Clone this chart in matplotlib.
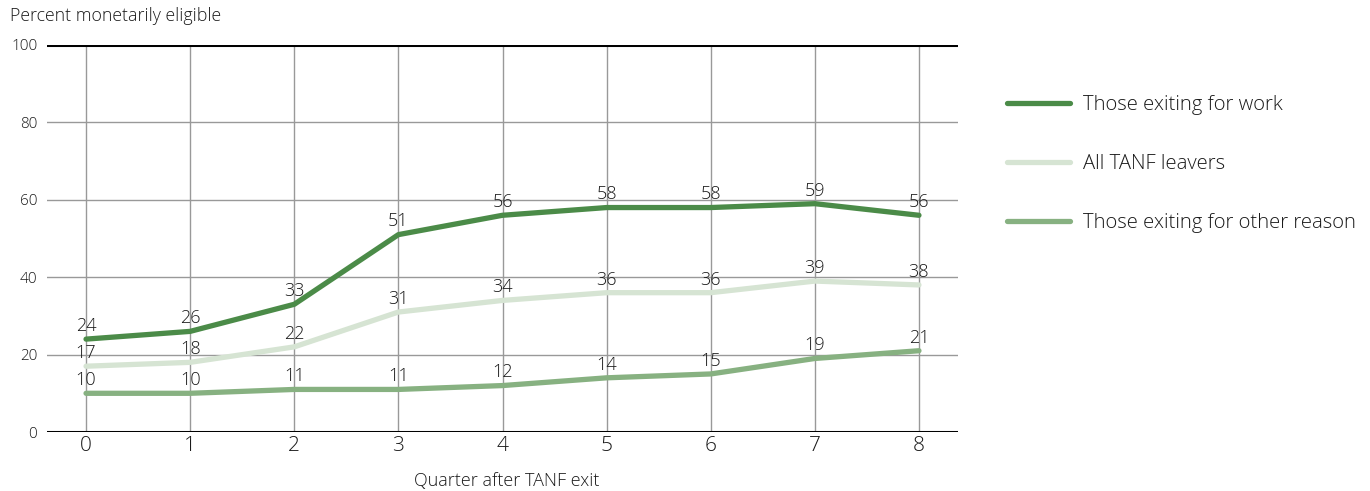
import matplotlib
matplotlib.use("Agg")
import matplotlib.pyplot as plt
from matplotlib.lines import Line2D

quarters = [0, 1, 2, 3, 4, 5, 6, 7, 8]
exiting_work = [24, 26, 33, 51, 56, 58, 58, 59, 56]
all_leavers = [17, 18, 22, 31, 34, 36, 36, 39, 38]
exiting_other = [10, 10, 11, 11, 12, 14, 15, 19, 21]
series_names = ["Those exiting for work", "All TANF leavers", "Those exiting for other reason"]
series_colors = ["#4b8b48", "#d6e4d3", "#87b181"]
y_ticks = [0, 20, 40, 60, 80, 100]

plt.rcParams["font.family"] = ["Open Sans", "DejaVu Sans"]
text_color = "#1a1a1a"
fw = "light"

fig = plt.figure(figsize=(13.7, 4.91), dpi=100)
ax = fig.add_axes([47 / 1370, 1 - 432 / 491, (958 - 47) / 1370, (432 - 45) / 491])
ax.set_xlim(-0.375, 8.375)
ax.set_ylim(0, 100)

for s in ax.spines.values():
    s.set_visible(False)

# grid
for q in quarters:
    ax.axvline(q, color="#999999", lw=1.0, zorder=1)
for yv in y_ticks[1:-1]:
    ax.axhline(yv, color="#999999", lw=1.0, zorder=1)
ax.axhline(0, color="black", lw=2.2, zorder=2)
ax.axhline(100, color="black", lw=2.2, zorder=2)

all_series = [exiting_work, all_leavers, exiting_other]
for vals, color in zip(all_series, series_colors):
    ax.plot(quarters, vals, color=color, lw=3.8, solid_capstyle="round",
            solid_joinstyle="round", zorder=3)
    for q, v in zip(quarters, vals):
        ax.annotate(str(v), (q, v), xytext=(0, 3), textcoords="offset points",
                    ha="center", va="bottom", fontsize=13, color=text_color,
                    weight=fw, zorder=4)

ax.set_yticks(y_ticks)
ax.set_yticklabels([str(v) for v in y_ticks], fontsize=11, color=text_color, weight=fw)
ax.set_xticks(quarters)
ax.set_xticklabels([str(q) for q in quarters], fontsize=15, color=text_color, weight=fw)
ax.tick_params(axis="both", length=0)
ax.tick_params(axis="y", pad=7)
ax.tick_params(axis="x", pad=3)

fig.text(10 / 1370, 1 - 16 / 491, "Percent monetarily eligible", fontsize=12.8,
         color=text_color, weight=fw, va="center", ha="left")
fig.text(507 / 1370, 1 - 481 / 491, "Quarter after TANF exit", fontsize=13,
         color=text_color, weight=fw, va="center", ha="center")

# legend
leg_rows = [103, 162, 221]
for name, color, yp in zip(series_names, series_colors, leg_rows):
    yf = 1 - yp / 491
    fig.add_artist(Line2D([1007 / 1370, 1070 / 1370], [yf, yf], color=color, lw=3.8,
                          solid_capstyle="round"))
    fig.text(1083 / 1370, yf - 0.004, name, fontsize=14.6, color=text_color,
             weight=fw, va="center", ha="left")

fig.savefig("out.png", dpi=100)
